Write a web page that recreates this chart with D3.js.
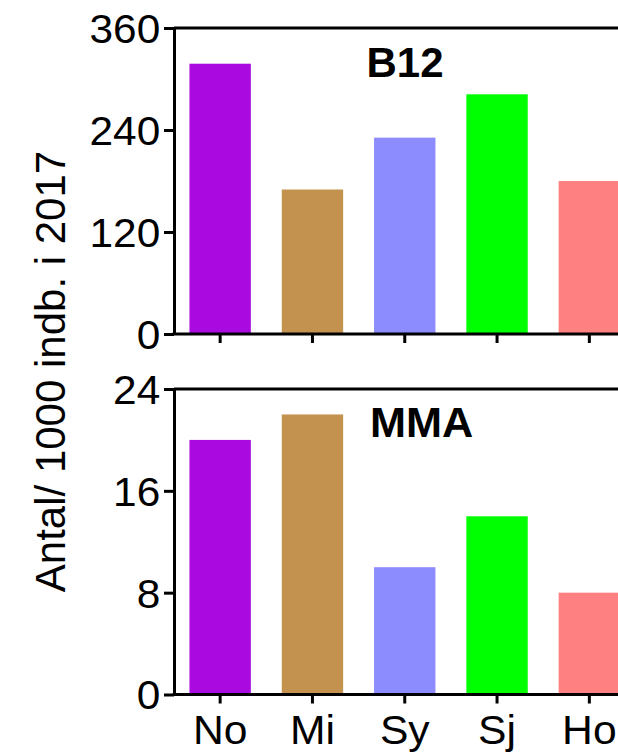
<!DOCTYPE html>
<html>
<head lang="en">
    <meta charset="UTF-8">
    <title>B12 og MMA per 1000 indb.</title>
    <script src="https://d3js.org/d3.v7.min.js"></script>
    <style>
        body { margin: 0; background: #fff; }
        text { font-family: "Liberation Sans", Arial, sans-serif; fill: #000; }
    </style>
</head>
<body>
<div id="chartContainer"></div>
<script type="text/javascript">
    // data
    var regions = ["No", "Mi", "Sy", "Sj", "Ho"];
    var colors = ["#AA0ADF", "#C4924F", "#8C8CFF", "#00FF00", "#FF8080"];
    var b12Values = [318, 170, 231, 282, 180];
    var mmaValues = [20, 22, 10, 14, 8];
    var b12Ticks = [0, 120, 240, 360];
    var mmaTicks = [0, 8, 16, 24];

    var svg = d3.select("#chartContainer").append("svg")
        .attr("width", 618)
        .attr("height", 752);

    var x = d3.scaleBand()
        .domain(regions)
        .range([174, 635.5])
        .paddingInner(0.335)
        .paddingOuter(0.1675);

    function drawPanel(values, ticks, top, bottom, title, titleX, titleY, titleStretch) {
        var y = d3.scaleLinear()
            .domain([0, ticks[ticks.length - 1]])
            .range([bottom, top]);

        var g = svg.append("g");

        g.selectAll("rect.bar")
            .data(values)
            .enter()
            .append("rect")
            .attr("class", "bar")
            .attr("x", function (d, i) { return x(regions[i]); })
            .attr("width", x.bandwidth())
            .attr("y", function (d) { return y(d); })
            .attr("height", function (d) { return y(0) - y(d); })
            .attr("fill", function (d, i) { return colors[i]; });

        // top frame line
        g.append("line")
            .attr("x1", 174).attr("x2", 640)
            .attr("y1", y(ticks[ticks.length - 1])).attr("y2", y(ticks[ticks.length - 1]))
            .attr("stroke", "#000").attr("stroke-width", 3);

        // y axis
        var yAxis = g.append("g")
            .attr("transform", "translate(174,0)")
            .call(d3.axisLeft(y).tickValues(ticks).tickSize(10).tickPadding(4).tickSizeOuter(0));
        yAxis.select(".domain").attr("stroke-width", 3);
        yAxis.selectAll(".tick line").attr("stroke-width", 3);
        yAxis.selectAll(".tick text")
            .style("font-size", "40px")
            .attr("x", -13)
            .attr("dy", "0.36em")
            .attr("transform", "scale(1.06,1)");

        // x axis
        var xAxis = g.append("g")
            .attr("transform", "translate(0," + bottom + ")")
            .call(d3.axisBottom(x).tickSize(9).tickSizeOuter(0).tickFormat(""));
        xAxis.select(".domain").attr("stroke-width", 3)
            .attr("d", "M172.5,0H640");
        xAxis.selectAll(".tick line").attr("stroke-width", 3);

        g.append("text")
            .attr("transform", "translate(" + titleX + "," + titleY + ") scale(" + titleStretch + ",1)")
            .attr("text-anchor", "middle")
            .style("font-size", "42px")
            .style("font-weight", "bold")
            .text(title);

        return g;
    }

    drawPanel(b12Values, b12Ticks, 28, 334, "B12", 405, 77, 1);
    drawPanel(mmaValues, mmaTicks, 389, 694.5, "MMA", 421.7, 437, 1.03);

    // category labels under the bottom panel
    svg.selectAll("text.cat")
        .data(regions)
        .enter()
        .append("text")
        .attr("class", "cat")
        .attr("transform", function (d) {
            return "translate(" + (x(d) + x.bandwidth() / 2) + ",744) scale(1.04,1)";
        })
        .attr("text-anchor", "middle")
        .style("font-size", "41px")
        .text(function (d) { return d; });

    // shared y label
    svg.append("text")
        .attr("transform", "translate(65,371.5) rotate(-90)")
        .attr("text-anchor", "middle")
        .style("font-size", "42px")
        .text("Antal/ 1000 indb. i 2017");
</script>
</body>
</html>
